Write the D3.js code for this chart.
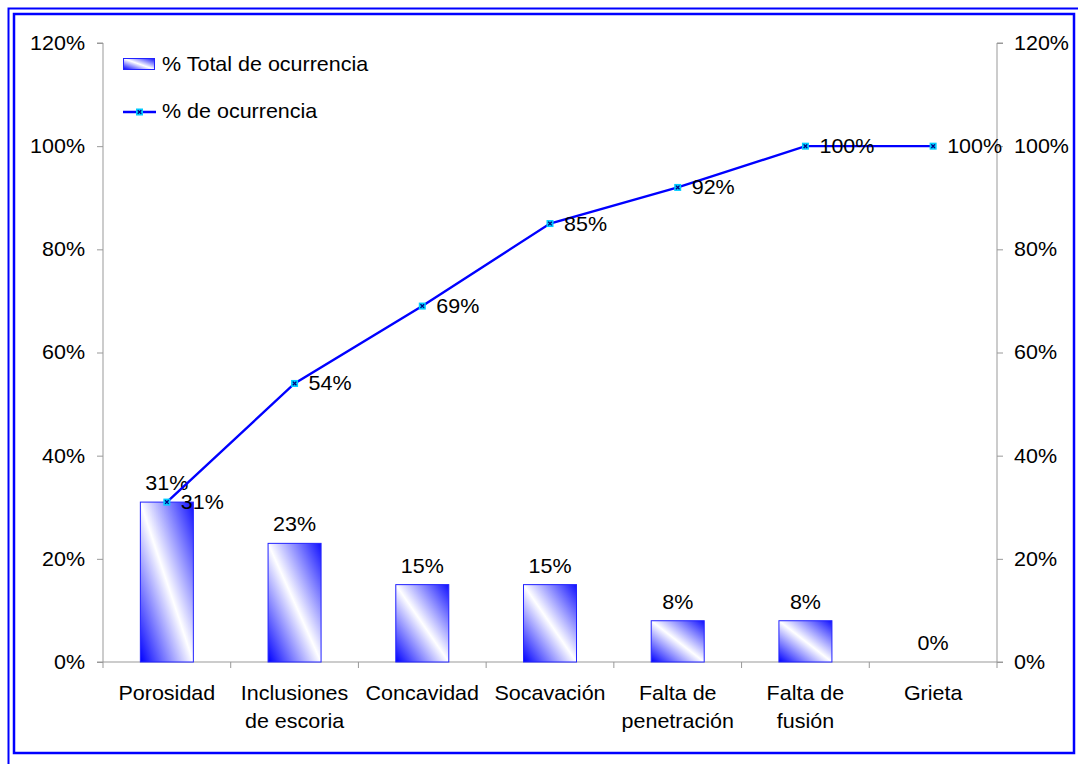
<!DOCTYPE html>
<html><head><meta charset="utf-8">
<script src="https://cdn.jsdelivr.net/npm/d3@7"></script>
<style>body{margin:0;background:#fff}svg{display:block}text{font-family:"Liberation Sans",Arial,sans-serif;fill:#000}</style>
</head><body>
<svg id="c" width="1078" height="764"></svg>
<script>
const categories = [["Porosidad"],["Inclusiones","de escoria"],["Concavidad"],["Socavación"],["Falta de","penetración"],["Falta de","fusión"],["Grieta"]];
const barValues = [0.31,0.23,0.15,0.15,0.08,0.08,0.00];
const lineValues = [0.31,0.54,0.69,0.85,0.92,1.00,1.00];
const yTicks = [0,0.2,0.4,0.6,0.8,1.0,1.2];
const legendLabels = ["% Total de ocurrencia","% de ocurrencia"];

(function(){
const svg = d3.select("#c");
const W=1078,H=764, SX=1.075, FS=20;
svg.append("rect").attr("width",W).attr("height",H).attr("fill","#fff");

svg.append("rect").attr("x",8.5).attr("y",8.5).attr("width",1080).attr("height",770).attr("fill","none").attr("stroke","#0000ff").attr("stroke-width",2);
svg.append("rect").attr("x",14).attr("y",14).attr("width",1060).attr("height",739).attr("fill","none").attr("stroke","#0000ff").attr("stroke-width",2.5);

const defs = svg.append("defs");
const g = defs.append("linearGradient").attr("id","bg").attr("x1",0).attr("y1",1).attr("x2",1).attr("y2",0);
g.append("stop").attr("offset","0").attr("stop-color","#0000ff");
g.append("stop").attr("offset","0.5").attr("stop-color","#ffffff");
g.append("stop").attr("offset","1").attr("stop-color","#1010ff");

function txt(x,y,s,anchor){
  return svg.append("text").attr("transform",`translate(${x},${y}) scale(${SX},1)`).attr("text-anchor",anchor||"start").attr("font-size",FS).text(s);
}

const pL=103,pR=997,pT=43,pB=662;
const x = d3.scaleBand().domain(d3.range(categories.length)).range([pL,pR]).paddingInner(0).paddingOuter(0);
const y = d3.scaleLinear().domain([0,1.2]).range([pB,pT]);
const fmt = d => Math.round(d*100)+"%";
const gray="#999999";

const la = svg.append("g").attr("transform",`translate(${pL},0)`).call(d3.axisLeft(y).tickValues(yTicks).tickFormat(fmt).tickSize(6).tickPadding(12));
la.selectAll("path,line").attr("stroke",gray);
la.selectAll("text").attr("font-size",FS).attr("font-family","Liberation Sans, Arial, sans-serif").attr("fill","#000").attr("x",-18/SX).attr("transform",`scale(${SX},1)`);
const ra = svg.append("g").attr("transform",`translate(${pR},0)`).call(d3.axisRight(y).tickValues(yTicks).tickFormat(fmt).tickSize(6).tickPadding(11));
ra.selectAll("path,line").attr("stroke",gray);
ra.selectAll("text").attr("font-size",FS).attr("font-family","Liberation Sans, Arial, sans-serif").attr("fill","#000").attr("x",17/SX).attr("transform",`scale(${SX},1)`);
la.select("path").attr("d",`M-6,${pT}H0V${pB}`);
ra.select("path").attr("d",`M6,${pT}H0V${pB}`);

svg.append("line").attr("x1",pL-6).attr("x2",pR+6).attr("y1",pB).attr("y2",pB).attr("stroke",gray);
const bounds = d3.range(categories.length+1).map(i=>pL+i*x.bandwidth());
svg.selectAll(".bt").data(bounds).enter().append("line").attr("x1",d=>d).attr("x2",d=>d).attr("y1",pB).attr("y2",pB+6).attr("stroke",gray);

categories.forEach((lines,i)=>{
  const cx = x(i)+x.bandwidth()/2;
  lines.forEach((t,j)=>{ txt(cx,700+j*28,t,"middle"); });
});

const bw = 53;
barValues.forEach((d,i)=>{
  if(d<=0) return;
  svg.append("rect").attr("x",x(i)+x.bandwidth()/2-bw/2).attr("y",y(d)).attr("width",bw).attr("height",y(0)-y(d))
    .attr("fill","url(#bg)").attr("stroke","#2222ff").attr("stroke-width",1);
});
barValues.forEach((d,i)=>{ txt(x(i)+x.bandwidth()/2,y(d)-12,fmt(d),"middle"); });

const line = d3.line().x((d,i)=>x(i)+x.bandwidth()/2).y(d=>y(d));
svg.append("path").datum(lineValues).attr("d",line).attr("fill","none").attr("stroke","#0000ff").attr("stroke-width",2.4);
function marker(cx,cy){
  svg.append("rect").attr("x",cx-3.5).attr("y",cy-3.5).attr("width",7).attr("height",7).attr("fill","#00ccff");
  svg.append("path").attr("d",`M${cx-1.8},${cy-1.8}L${cx+1.8},${cy+1.8}M${cx+1.8},${cy-1.8}L${cx-1.8},${cy+1.8}`).attr("stroke","#000080").attr("stroke-width",1.3);
}
lineValues.forEach((d,i)=>{
  const cx=x(i)+x.bandwidth()/2, cy=y(d);
  marker(cx,cy);
  txt(cx+14,cy+7,fmt(d));
});

svg.append("rect").attr("x",123.5).attr("y",58.5).attr("width",31).attr("height",11).attr("fill","url(#bg)").attr("stroke","#2222ff");
txt(162,71,legendLabels[0]);
svg.append("line").attr("x1",123).attr("x2",156).attr("y1",112).attr("y2",112).attr("stroke","#0000ff").attr("stroke-width",2.4);
marker(139.5,112);
txt(162,118,legendLabels[1]);
})();
</script>
</body></html>
